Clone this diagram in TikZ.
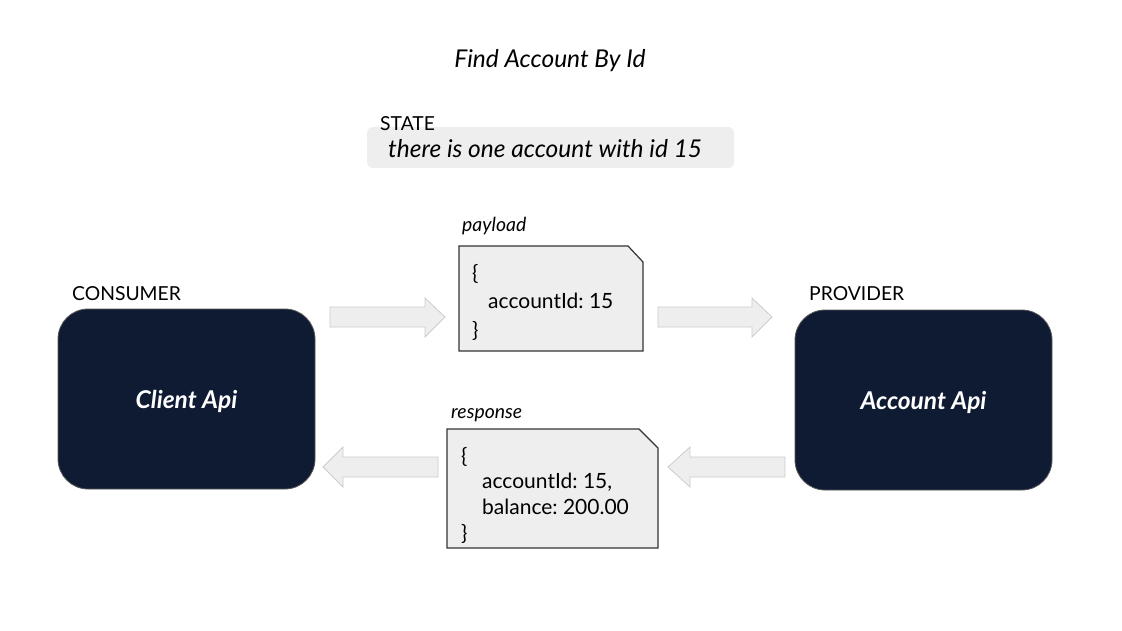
\documentclass[tikz,border=0pt]{standalone}
\usepackage{fontspec}
\setmainfont{Lato}
\usepackage{tikz}
\frenchspacing

\definecolor{navy}{HTML}{0F1B33}
\definecolor{paper}{HTML}{EEEEEE}
\definecolor{arrowline}{HTML}{CCCCCC}

\tikzset{
  service/.style={draw=gray!70!black, line width=0.8pt, fill=navy, rounded corners=30pt,
    minimum width=257pt, minimum height=180pt, text=white, text depth=0pt,
    font=\fontsize{24.5}{28}\selectfont\bfseries\itshape},
  tag/.style={font=\fontsize{19.3}{23}\selectfont, inner sep=0pt, anchor=west},
  caption/.style={font=\fontsize{19.4}{23}\selectfont\itshape, inner sep=0pt, anchor=west},
  docbox/.style={draw=black!80, line width=1.2pt, fill=paper},
  blockarrow/.style={draw=arrowline, line width=0.8pt, fill=paper},
  code/.style={align=left, anchor=north west, inner sep=0pt},
}

\begin{document}
\begin{tikzpicture}[x=1pt, y=-1pt]
    \useasboundingbox (0, 0) rectangle (1122, 631);

    \node[font=\fontsize{24.5}{28}\selectfont\itshape] (title) at (550, 61) {Find Account By Id};

    % state
    \fill[paper, rounded corners=6pt] (367, 127) rectangle (734, 168);
    \node[tag] (statelbl) at (380, 124) {STATE};
    \node[font=\fontsize{24.5}{28}\selectfont\itshape, inner sep=0pt, anchor=west] (state) at (388, 149)
      {there is one account with id 15};

    % services
    \node[service] (client) at (186.5, 399) {Client Api};
    \node[service] (account) at (923.5, 400) {Account Api};
    \node[tag] (consumer) at (72, 294) {CONSUMER};
    \node[tag] (provider) at (809, 294) {PROVIDER};

    % payload
    \node[caption] (payloadlbl) at (462, 226) {payload};
    \draw[docbox] (459, 246) -- (628, 246) -- (643, 262) -- (643, 351) -- (459, 351) -- cycle;
    \node[code, font=\fontsize{21}{28.5}\selectfont] (payload) at (472, 264)
      {\{\\\hspace*{16pt}accountId: 15\\\}};

    % response
    \node[caption] (responselbl) at (451, 415) {response};
    \draw[docbox] (447, 429) -- (639, 429) -- (658, 448) -- (658, 548) -- (447, 548) -- cycle;
    \node[code, font=\fontsize{21}{25.7}\selectfont] (response) at (461, 447)
      {\{\\\hspace*{21pt}accountId: 15,\\\hspace*{21pt}balance: 200.00\\\}};

    % arrows
    \draw[blockarrow] (330, 307) -- (425, 307) -- (425, 298) -- (445, 317)
      -- (425, 337) -- (425, 327) -- (330, 327) -- cycle;
    \draw[blockarrow] (658, 307) -- (752, 307) -- (752, 298) -- (772, 317)
      -- (752, 337) -- (752, 327) -- (658, 327) -- cycle;
    \draw[blockarrow] (438, 457) -- (343, 457) -- (343, 447) -- (323, 467)
      -- (343, 487) -- (343, 477) -- (438, 477) -- cycle;
    \draw[blockarrow] (785, 457) -- (690, 457) -- (690, 447) -- (668, 467)
      -- (690, 487) -- (690, 477) -- (785, 477) -- cycle;
\end{tikzpicture}
\end{document}
